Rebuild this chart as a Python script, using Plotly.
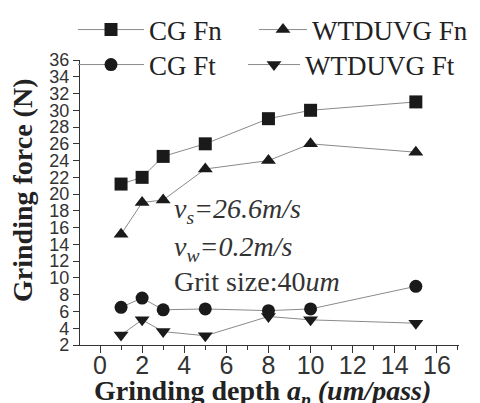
import plotly.graph_objects as go

depth = [1, 2, 3, 5, 8, 10, 15]
cg_fn = [21.2, 22.0, 24.5, 26.0, 29.0, 30.0, 31.0]
wt_fn = [15.2, 19.0, 19.3, 23.0, 24.0, 26.0, 25.0]
cg_ft = [6.5, 7.6, 6.2, 6.3, 6.1, 6.3, 9.0]
wt_ft = [3.2, 5.0, 3.6, 3.1, 5.4, 5.0, 4.6]

names = ["CG Fn", "WTDUVG Fn", "CG Ft", "WTDUVG Ft"]
series = [cg_fn, wt_fn, cg_ft, wt_ft]
symbols = ["square", "triangle-up", "circle", "triangle-down"]
legends = ["legend", "legend2", "legend3", "legend4"]

fig = go.Figure()
for n, s, sym, lg in zip(names, series, symbols, legends):
    fig.add_trace(go.Scatter(
        x=depth, y=s, name=n, mode="lines+markers", legend=lg,
        line=dict(color="#8a8a8a", width=1),
        marker=dict(symbol=sym, color="#1a1a1a", size=13, line=dict(width=0)),
    ))

serif = "Liberation Serif"
sans = "Liberation Sans"
W, H = 480, 403


def leg(x_text, y_mid, iw, adj):
    # legend placed so that its text starts near x_text (px) and is centred on y_mid (px)
    return dict(orientation="h", xref="container", yref="container",
                xanchor="left", yanchor="middle",
                x=(x_text - iw - 13 + adj) / W, y=1 - y_mid / H,
                font=dict(family=serif, size=27, color="#222"),
                bgcolor="rgba(0,0,0,0)", itemwidth=iw)


fig.update_layout(
    width=W, height=H,
    paper_bgcolor="white", plot_bgcolor="white",
    margin=dict(l=80, r=21, t=60, b=58, autoexpand=False),
    showlegend=True,
    legend=leg(152, 30, 66, 0),
    legend2=leg(312, 30, 48, 3),
    legend3=leg(152, 65, 66, 0),
    legend4=leg(305, 65, 52, 3),
    xaxis=dict(range=[-0.95, 17.05], tickmode="array",
               tickvals=[0, 2, 4, 6, 8, 10, 12, 14, 16],
               ticks="outside", ticklen=7, tickwidth=1, tickcolor="#333",
               minor=dict(dtick=1, ticks="outside", ticklen=4, tickcolor="#333"),
               showline=True, linecolor="#333", linewidth=1.2,
               showgrid=False, zeroline=False, ticklabelstandoff=-9,
               tickfont=dict(family=sans, size=25, color="#333")),
    yaxis=dict(range=[2, 36], tickmode="array",
               tickvals=list(range(2, 37, 2)),
               ticks="outside", ticklen=6, tickwidth=1, tickcolor="#333",
               showline=True, linecolor="#333", linewidth=1.2,
               showgrid=False, zeroline=False,
               tickfont=dict(family=sans, size=18, color="#333")),
)

fig.add_annotation(x=(22 - 80) / 379, y=(345 - 191) / 285, xref="paper", yref="paper",
                   xanchor="center", yanchor="middle", showarrow=False, textangle=-90,
                   text="<b>Grinding force (N)</b>",
                   font=dict(family=serif, size=28, color="#222"))

fig.add_annotation(x=(262 - 80) / 379, y=(345 - 392) / 285, xref="paper", yref="paper",
                   xanchor="center", yanchor="middle", showarrow=False,
                   text="<b>Grinding depth <i>a<sub>p</sub></i> <i>(um/pass)</i></b>",
                   font=dict(family=serif, size=28, color="#222"))

ann_font = dict(family=serif, size=28, color="#333")
fig.add_annotation(x=0.242, y=0.471, xref="paper", yref="paper", xanchor="left", yanchor="middle",
                   text="<i>v<sub>s</sub>=26.6m/s</i>", showarrow=False, font=ann_font)
fig.add_annotation(x=0.242, y=0.34, xref="paper", yref="paper", xanchor="left", yanchor="middle",
                   text="<i>v<sub>w</sub>=0.2m/s</i>", showarrow=False, font=ann_font)
fig.add_annotation(x=0.242, y=0.222, xref="paper", yref="paper", xanchor="left", yanchor="middle",
                   text="Grit size:40<i>um</i>", showarrow=False, font=ann_font)

fig.write_html("out.html", config={"displayModeBar": False},
               post_script="document.body.style.margin='0';")
